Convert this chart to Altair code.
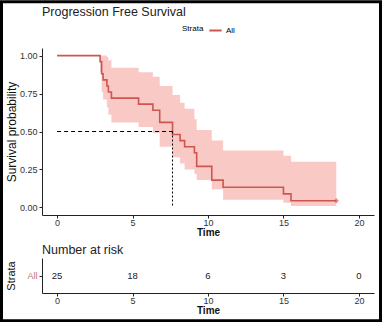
import altair as alt
import pandas as pd

# Kaplan-Meier estimate
times = [0, 2.85, 2.95, 3.05, 3.3, 3.4, 3.6, 5.4, 6.35, 6.8, 7.65, 8.15, 8.45, 9.1, 9.25, 10.25, 11.0, 15.0, 15.5, 18.5]
surv = [1.0, 0.96, 0.88, 0.84, 0.80, 0.76, 0.72, 0.68, 0.64, 0.56, 0.48, 0.44, 0.40, 0.36, 0.27, 0.18, 0.133, 0.089, 0.044, 0.044]
upper = [1.0, 1.0, 1.0, 1.0, 0.99, 0.97, 0.92, 0.89, 0.86, 0.80, 0.74, 0.69, 0.65, 0.58, 0.51, 0.44, 0.375, 0.34, 0.30, 0.30]
lower = [1.0, 0.89, 0.76, 0.71, 0.66, 0.61, 0.56, 0.53, 0.49, 0.40, 0.33, 0.29, 0.25, 0.22, 0.18, 0.12, 0.05, 0.03, 0.01, 0.01]
censor_time = [18.5]
censor_surv = [0.044]
median_time = [7.65]
median_surv = [0.5]

# Number at risk table
risk_times = [0, 5, 10, 15, 20]
risk_n = [25, 18, 6, 3, 0]
strata = ["All"]

x_ticks = [0, 5, 10, 15, 20]
y_ticks = [0, 0.25, 0.5, 0.75, 1.0]

LINE = "#cd5650"
BAND = "#f9c9c6"
FONT = "Liberation Sans"

km = pd.DataFrame({"time": times, "surv": surv, "upper": upper, "lower": lower,
                   "strata": strata * len(times)})
cens = pd.DataFrame({"time": censor_time, "surv": censor_surv})
med = pd.DataFrame({"t": median_time, "s": median_surv, "t0": [0], "s0": [0]})
risk = pd.DataFrame({"time": risk_times, "n": risk_n, "strata": strata * len(risk_times)})

xscale = alt.Scale(domain=[-1, 21], nice=False, zero=False)
yscale = alt.Scale(domain=[-0.05, 1.05], nice=False, zero=False)

xaxis = alt.Axis(values=x_ticks, title="Time", titleFontWeight="bold", titleFontSize=10,
                 labelPadding=0, titleY=17.5, titleBaseline="middle")

band = alt.Chart(km).mark_area(interpolate="step-after", color=BAND, opacity=1).encode(
    x=alt.X("time:Q", scale=xscale, axis=xaxis),
    y=alt.Y("lower:Q", scale=yscale,
            axis=alt.Axis(values=y_ticks, format=".2f", title="Survival probability",
                          titleFontSize=12, titleFontWeight="normal", titlePadding=1)),
    y2="upper:Q",
)

line = alt.Chart(km).mark_line(interpolate="step-after", strokeWidth=1.6).encode(
    x="time:Q",
    y="surv:Q",
    color=alt.Color("strata:N", scale=alt.Scale(range=[LINE]),
                    legend=alt.Legend(title="Strata", orient="none", legendX=140, legendY=-25,
                                      direction="horizontal", titleOrient="left",
                                      titleFontSize=8, titleFontWeight="normal",
                                      labelFontSize=8, symbolType="stroke",
                                      symbolSize=150, symbolStrokeWidth=2,
                                      titlePadding=4, labelOffset=3)),
)

cross = alt.Chart(cens).mark_point(shape="cross", size=20, color=LINE, filled=True).encode(
    x="time:Q", y="surv:Q")

hline = alt.Chart(med).mark_rule(color="black", strokeDash=[4, 3], strokeWidth=1).encode(
    x="t0:Q", x2="t:Q", y="s:Q")
vline = alt.Chart(med).mark_rule(color="black", strokeDash=[2, 2], strokeWidth=1).encode(
    x="t:Q", y="s:Q", y2="s0:Q")

top = alt.layer(band, line, cross, hline, vline).properties(
    width=332, height=167,
    title=alt.TitleParams("Progression Free Survival", anchor="start", frame="group",
                          fontSize=12.5, fontWeight="normal", font=FONT, color="#222",
                          offset=30),
)

bottom = alt.Chart(risk).mark_text(fontSize=9.5, font=FONT, color="#222").encode(
    x=alt.X("time:Q", scale=xscale, axis=xaxis),
    y=alt.Y("strata:N", axis=alt.Axis(title="Strata", titleFontSize=11, titleFontWeight="normal",
                                      labelColor="#c07772", labelFontSize=9, titlePadding=10)),
    text="n:Q",
).properties(
    width=332, height=35,
    title=alt.TitleParams("Number at risk", anchor="start", frame="group",
                          fontSize=12.5, fontWeight="normal", font=FONT, color="#222",
                          offset=2),
)

# outer black frame of the figure (third, empty row of the layout)
frame = alt.Chart(pd.DataFrame({"k": [0]})).mark_rect(
    fill=None, fillOpacity=0, stroke="black", strokeWidth=3).encode(
    x=alt.value(-40.5), x2=alt.value(338.5), y=alt.value(-334.2), y2=alt.value(-15.2)
).properties(width=332, height=1)

chart = alt.vconcat(top, bottom, frame, spacing=43, bounds="flush").properties(
    padding=0, background="white"
).configure_view(stroke=None).configure_axis(
    grid=False, domainColor="#222", domainWidth=1, tickColor="#222", tickSize=3,
    labelColor="#333", labelFontSize=9, labelFont=FONT, titleFont=FONT, titleColor="#111",
).configure_legend(labelFont=FONT, titleFont=FONT)

chart.save("out.html", embed_options={"renderer": "svg", "actions": False})
